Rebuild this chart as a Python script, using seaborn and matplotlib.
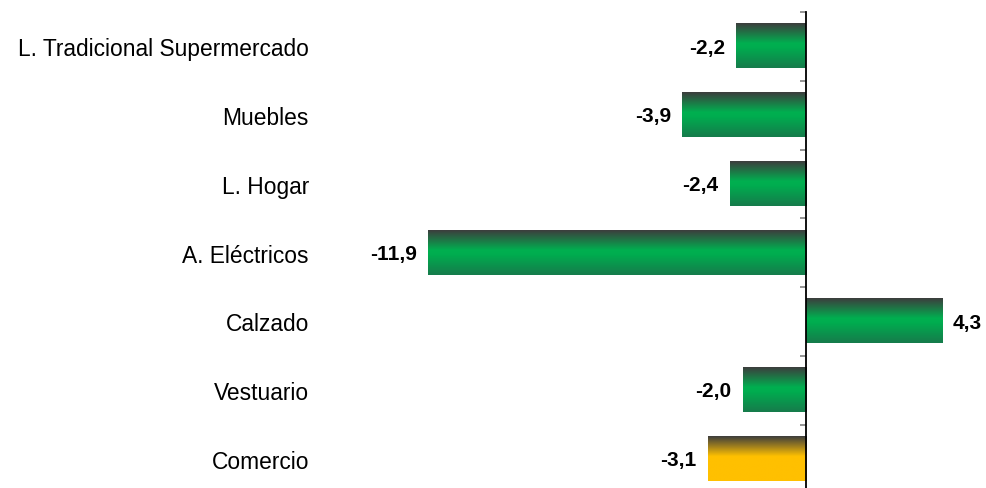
import numpy as np
import pandas as pd
import matplotlib.pyplot as plt
import seaborn as sns
from matplotlib.colors import to_rgb

categories = ["L. Tradicional Supermercado", "Muebles", "L. Hogar", "A. Eléctricos",
              "Calzado", "Vestuario", "Comercio"]
values = [-2.2, -3.9, -2.4, -11.9, 4.3, -2.0, -3.1]
value_labels = ["-2,2", "-3,9", "-2,4", "-11,9", "4,3", "-2,0", "-3,1"]


def gradient(stops, n=200):
    # stops: list of (position 0..1 from top, color)
    pos = np.linspace(0, 1, n)
    out = np.zeros((n, 1, 3))
    ps = [s[0] for s in stops]
    cols = np.array([to_rgb(s[1]) for s in stops])
    for c in range(3):
        out[:, 0, c] = np.interp(pos, ps, cols[:, c])
    return out


green_grad = gradient([(0.0, "#3d3d3d"), (0.45, "#00b050"), (0.55, "#00ac4f"), (1.0, "#167b4b")])
yellow_grad = gradient([(0.0, "#3d3d3d"), (0.45, "#ffc000"), (1.0, "#ffc000")])

sns.set_style("white")
plt.rcParams["font.family"] = ["Liberation Sans", "DejaVu Sans"]
plt.rcParams["text.color"] = "black"
plt.rcParams["ytick.color"] = "black"

df = pd.DataFrame({"categoria": categories, "valor": values})

fig = plt.figure(figsize=(9.87, 4.89), dpi=100)
ax = fig.add_axes([393 / 987, -5.3 / 489, 588 / 987, 481.3 / 489])

sns.barplot(data=df, x="valor", y="categoria", orient="h", width=0.64,
            color="#00b050", ax=ax, zorder=2)

for i, patch in enumerate(ax.patches):
    x0 = min(patch.get_x(), patch.get_x() + patch.get_width())
    x1 = max(patch.get_x(), patch.get_x() + patch.get_width())
    y0 = patch.get_y()
    h = patch.get_height()
    grad = yellow_grad if categories[i] == "Comercio" else green_grad
    patch.set_facecolor("none")
    patch.set_edgecolor("none")
    ax.imshow(grad, extent=[x0, x1, y0 + h, y0], origin="upper",
              aspect="auto", clip_path=patch, zorder=2, interpolation="bilinear")
    if values[i] < 0:
        ax.text(x0 - 0.36, y0 + h / 2 + 0.01, value_labels[i], ha="right", va="center",
                fontsize=15, fontweight="bold", color="black")
    else:
        ax.text(x1 + 0.3, y0 + h / 2 + 0.01, value_labels[i], ha="left", va="center",
                fontsize=15, fontweight="bold", color="black")

ax.set_xlim(-13, 5.5)
ax.set_ylim(6.5, -0.5)

for s in ["top", "right", "bottom"]:
    ax.spines[s].set_visible(False)
ax.spines["left"].set_position(("data", 0))
ax.spines["left"].set_color("black")
ax.spines["left"].set_linewidth(1.3)
ax.spines["left"].set_zorder(3)

ax.set_xticks([])
ax.set_xlabel("")
ax.set_ylabel("")
ax.set_yticks(range(len(categories)))
ax.set_yticklabels(categories)
ax.set_yticks(np.arange(-0.5, len(categories), 1.0), minor=True)
ax.tick_params(axis="y", which="major", left=True, length=0, pad=358,
               labelsize=16.4, labelcolor="black")
ax.tick_params(axis="y", which="minor", left=True, length=4.5, width=1.3,
               color="#8c8c8c", direction="out")

fig.savefig("out.png", dpi=100)
